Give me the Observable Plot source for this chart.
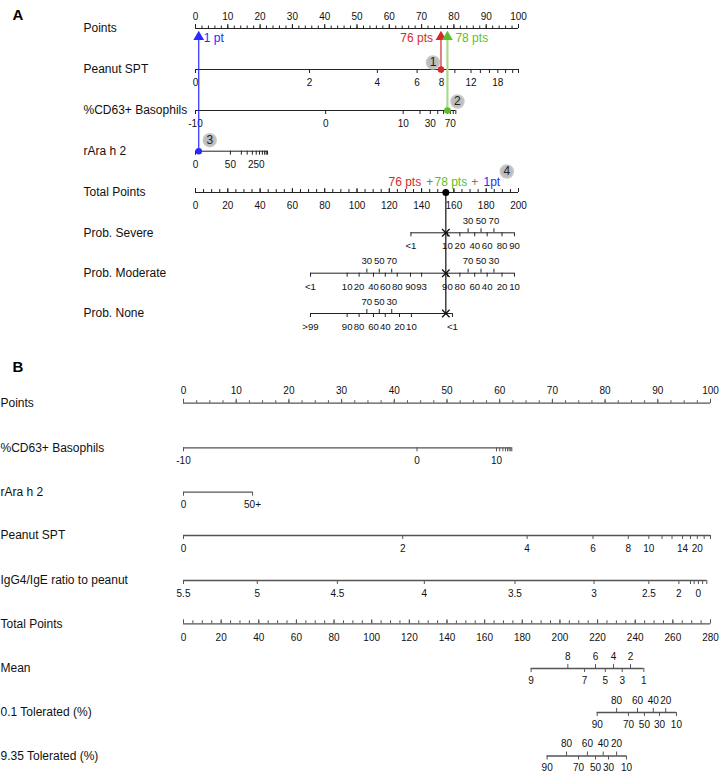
<!DOCTYPE html>
<html><head><meta charset="utf-8">
<script src="https://cdn.jsdelivr.net/npm/d3@7"></script>
<script src="https://cdn.jsdelivr.net/npm/@observablehq/plot@0.6"></script>
<style>
body{margin:0;background:#fff;font-family:"Liberation Sans",Arial,sans-serif}
#chart{width:719px}
#chart svg{display:block}
</style>
</head><body><div id="chart"></div>
<script>
// ================= PANEL A DATA =================
const aRowNames = ["Points","Peanut SPT","%CD63+ Basophils","rAra h 2","Total Points","Prob. Severe","Prob. Moderate","Prob. None"];
const aPointsLabels = [0,10,20,30,40,50,60,70,80,90,100];
// Peanut SPT: tick labels and their position on the Points scale
const aSptLabels = ["0","2","4","6","8","","12","","","18","","",""];
const aSptPoints = [0,35.3,56.3,68.6,76.2,80.3,85.3,88.2,91.0,93.6,96.0,98.2,100];
// %CD63+ Basophils
const aCd63Labels = ["-10","0","10","","30","","","","70","",""];
const aCd63Points = [0,40.3,64.3,69.5,72.7,75.0,76.8,78.0,78.9,79.8,80.6];
// rAra h 2
const aRaraLabels = ["0","50","","","","250","","","","",""];
const aRaraPoints = [0,10.8,14.2,16.0,17.6,18.8,19.8,20.7,21.4,21.9,22.3];
const aTotalLabels = [0,20,40,60,80,100,120,140,160,180,200];
// Probability axes (positions on the Total Points scale)
const aSevBottom = ["<1","10","20","40","60","80","90"];
const aSevBottomTot = [133.4,156.0,163.7,172.9,180.6,189.8,197.5];
const aSevTop = ["30","50","70"];
const aSevTopTot = [168.8,176.8,184.8];
const aModBottom = ["<1","10","20","40","60","80","90","93","90","80","60","40","20","10"];
const aModBottomTot = [71.2,93.9,101.3,110.2,117.5,124.9,133.1,140.0,156.0,163.7,172.9,180.6,189.8,197.5];
const aModTop = ["30","50","70","70","50","30"];
const aModTopTot = [106.1,113.8,121.5,168.8,176.8,184.8];
const aNoneBottom = [">99","90","80","60","40","20","10","<1"];
const aNoneBottomTot = [71.2,93.9,101.3,110.2,117.5,126.3,133.7,159.1];
const aNoneTop = ["70","50","30"];
const aNoneTopTot = [106.1,113.8,121.5];
// Worked example
const exSptPts = 76, exCd63Pts = 78, exRaraPts = 1, exTotal = 155;

// ================= PANEL B DATA =================
const bRowNames = ["Points","%CD63+ Basophils","rAra h 2","Peanut SPT","IgG4/IgE ratio to peanut","Total Points","Mean","0.1 Tolerated (%)","9.35 Tolerated (%)"];
const bPointsLabels = [0,10,20,30,40,50,60,70,80,90,100];
const bCd63Labels = ["-10","0","10","","","","","","",""];
const bCd63Points = [0,44.3,59.4,60.0,60.6,61.1,61.5,61.8,62.1,62.3];
const bRaraLabels = ["0","50+"];
const bRaraPoints = [0,13.1];
const bSptLabels = ["0","2","4","6","8","10","","","14","","20","",""];
const bSptPoints = [0,41.6,65.2,77.7,84.4,88.3,90.8,92.7,94.7,96.2,97.5,98.8,100];
const bIgLabels = ["5.5","5","4.5","4","3.5","3","2.5","2","","","0","",""];
const bIgPoints = [0,14.0,29.2,45.7,62.9,77.9,88.3,94.0,96.2,96.9,97.7,98.5,99.3];
const bTotalLabels = [0,20,40,60,80,100,120,140,160,180,200,220,240,260,280];
const bMeanTop = ["8","6","4","2"];
const bMeanTopTot = [204.2,218.9,228.5,237.5];
const bMeanBottom = ["9","7","5","3","1"];
const bMeanBottomTot = [184.7,213.1,224.1,233.1,244.6];
const bTol01Top = ["80","60","40","20"];
const bTol01TopTot = [230.1,241.2,249.6,256.2];
const bTol01Bottom = ["90","70","50","30","10"];
const bTol01BottomTot = [219.8,236.4,244.9,252.9,261.9];
const bTol935Top = ["80","60","40","20"];
const bTol935TopTot = [203.5,214.6,223.0,230.1];
const bTol935Bottom = ["90","70","50","30","10"];
const bTol935BottomTot = [193.2,209.9,218.9,225.8,235.4];

// ================= HELPERS =================
const FONT = "Liberation Sans, Arial, Helvetica, sans-serif";
function axisLine(y, from, to, stroke, sw) {
  return Plot.ruleY([{y, x1: from, x2: to}], {y: "y", x1: "x1", x2: "x2", stroke, strokeWidth: sw});
}
function ticks(labels, pos, y, dir, len, labelOff, stroke, sw, fs = 10) {
  const data = labels.map((l, i) => ({l: String(l), x: pos[i]}));
  return [
    Plot.ruleX(data, {x: "x", y1: () => y, y2: () => y + dir * len, stroke, strokeWidth: sw}),
    Plot.text(data.filter(d => d.l !== ""), {x: "x", y: () => y + dir * labelOff, text: "l", fontSize: fs, fill: "#111", fontFamily: FONT})
  ];
}
function rowLabel(name, y, dx, fs = 12) {
  return Plot.text([name], {frameAnchor: "left", dx, y: () => y, text: d => d, textAnchor: "start", fontSize: fs, fill: "#111", fontFamily: FONT});
}

// ================= PANEL A =================
{
  const ML = 195, MR = 201, H = 340;
  const rowsY = [28, 69, 110, 150.7, 192, 232.3, 272.7, 313];
  const tot = t => t * 100 / 200;
  const stroke = "#222";
  const red = "#d32b2b", green = "#5cbf2a", greenLine = "#a9db8f", blue = "#2a2aff";
  const marks = [];
  marks.push(Plot.text(["A"], {frameAnchor: "left", dx: 12 - ML, y: () => 15, text: d => d, textAnchor: "start", fontSize: 15, fontWeight: "bold", fill: "#000", fontFamily: FONT}));
  aRowNames.forEach((n, i) => marks.push(rowLabel(n, rowsY[i], 83 - ML)));
  // Points
  marks.push(axisLine(rowsY[0], 0, 100, stroke, 1));
  marks.push(...ticks(d3.range(0, 101, 2).map(() => ""), d3.range(0, 101, 2), rowsY[0], -1, 2.5, 0, stroke, 1));
  marks.push(...ticks(aPointsLabels, aPointsLabels, rowsY[0], -1, 4, 11.5, stroke, 1));
  // Variables
  marks.push(axisLine(rowsY[1], 0, d3.max(aSptPoints), stroke, 1));
  marks.push(...ticks(aSptLabels, aSptPoints, rowsY[1], 1, 4, 13.5, stroke, 1));
  marks.push(axisLine(rowsY[2], 0, d3.max(aCd63Points), stroke, 1));
  marks.push(...ticks(aCd63Labels, aCd63Points, rowsY[2], 1, 4, 13.5, stroke, 1));
  marks.push(axisLine(rowsY[3], 0, d3.max(aRaraPoints), stroke, 1));
  marks.push(...ticks(aRaraLabels, aRaraPoints, rowsY[3], 1, 4, 13.5, stroke, 1));
  // Total points
  marks.push(axisLine(rowsY[4], 0, 100, stroke, 1));
  marks.push(...ticks(d3.range(0, 201, 5).map(() => ""), d3.range(0, 201, 5).map(tot), rowsY[4], -1, 3, 0, stroke, 1));
  marks.push(...ticks(aTotalLabels, aTotalLabels.map(tot), rowsY[4], -1, 4, -13.5, stroke, 1));
  // Probabilities
  const probRow = (y, bl, bt, tl, tt) => {
    const all = bt.concat(tt);
    marks.push(axisLine(y, tot(d3.min(all)), tot(d3.max(all)), stroke, 1));
    marks.push(...ticks(bl, bt.map(tot), y, 1, 4, 13.5, stroke, 1, 9.6));
    marks.push(...ticks(tl, tt.map(tot), y, -1, 4, 12, stroke, 1, 9.6));
  };
  probRow(rowsY[5], aSevBottom, aSevBottomTot, aSevTop, aSevTopTot);
  probRow(rowsY[6], aModBottom, aModBottomTot, aModTop, aModTopTot);
  probRow(rowsY[7], aNoneBottom, aNoneBottomTot, aNoneTop, aNoneTopTot);

  // Worked example
  const arrowY = 37;
  marks.push(Plot.ruleX([{x: exSptPts, y1: rowsY[1], y2: arrowY}], {x: "x", y1: "y1", y2: "y2", stroke: red, strokeWidth: 1.2}));
  marks.push(Plot.ruleX([{x: exCd63Pts, y1: rowsY[2], y2: arrowY}], {x: "x", y1: "y1", y2: "y2", stroke: greenLine, strokeWidth: 2.2}));
  marks.push(Plot.ruleX([{x: exRaraPts, y1: rowsY[3], y2: arrowY}], {x: "x", y1: "y1", y2: "y2", stroke: blue, strokeWidth: 1.2}));
  marks.push(Plot.dot([{x: exSptPts, c: red}, {x: exCd63Pts, c: green}, {x: exRaraPts, c: blue}], {x: "x", y: () => arrowY - 0.5, symbol: "triangle", r: 4, fill: "c", stroke: "none"}));
  marks.push(Plot.dot([{x: exSptPts, y: rowsY[1], c: red}, {x: exCd63Pts, y: rowsY[2], c: green}, {x: exRaraPts, y: rowsY[3], c: blue}], {x: "x", y: "y", r: 3.3, fill: "c", stroke: "none"}));
  marks.push(Plot.text([exSptPts + " pts"], {x: () => exSptPts, y: () => 38, dx: -8, text: d => d, textAnchor: "end", fill: red, fontSize: 12, fontFamily: FONT}));
  marks.push(Plot.text([exCd63Pts + " pts"], {x: () => exCd63Pts, y: () => 38, dx: 8, text: d => d, textAnchor: "start", fill: green, fontSize: 12, fontFamily: FONT}));
  marks.push(Plot.text([exRaraPts + " pt"], {x: () => exRaraPts, y: () => 38, dx: 5, text: d => d, textAnchor: "start", fill: blue, fontSize: 12, fontFamily: FONT}));
  // Total line
  marks.push(Plot.ruleX([{x: tot(exTotal), y1: rowsY[4], y2: rowsY[7]}], {x: "x", y1: "y1", y2: "y2", stroke: "#111", strokeWidth: 1.2}));
  marks.push(Plot.dot([tot(exTotal)], {x: d => d, y: () => rowsY[4], r: 3.5, fill: "#000"}));
  marks.push(Plot.dot([5, 6, 7].map(i => rowsY[i]), {x: () => tot(exTotal), y: d => d, symbol: "times", r: 3.5, stroke: "#111", strokeWidth: 1.3}));
  const sumParts = [
    {t: exSptPts + " pts", c: red, dx: -41},
    {t: "+", c: "#777", dx: -16},
    {t: exCd63Pts + " pts", c: green, dx: 5},
    {t: "+", c: "#777", dx: 29},
    {t: exRaraPts + "pt", c: blue, dx: 46}
  ];
  sumParts.forEach(p => marks.push(Plot.text([p.t], {x: () => tot(exTotal), y: () => rowsY[4] - 10, dx: p.dx, text: d => d, fill: p.c, fontSize: 12, fontFamily: FONT})));
  // Step bubbles
  const steps = [
    {n: "1", x: exSptPts, y: rowsY[1], dx: -8, dy: -7},
    {n: "2", x: exCd63Pts, y: rowsY[2], dx: 10, dy: -9},
    {n: "3", x: exRaraPts, y: rowsY[3], dx: 11, dy: -11},
    {n: "4", x: tot(exTotal), y: rowsY[4], dx: 61, dy: -21}
  ];
  steps.forEach(s => {
    marks.push(Plot.dot([s], {x: "x", y: "y", dx: s.dx, dy: s.dy, r: 6.5, fill: "#bdbdbd", stroke: "#c8c8c8"}));
    marks.push(Plot.text([s], {x: "x", y: "y", dx: s.dx, dy: s.dy, text: "n", fontSize: 12, fill: "#222", fontFamily: FONT}));
  });

  const p = Plot.plot({
    width: 719, height: H, marginLeft: ML, marginRight: MR, marginTop: 0, marginBottom: 0,
    x: {domain: [0, 100], axis: null},
    y: {domain: [0, H], range: [0, H], axis: null},
    style: {fontFamily: FONT, background: "#fff", overflow: "visible"},
    marks
  });
  document.getElementById("chart").appendChild(p);
}

// ================= PANEL B =================
{
  const ML = 183, MR = 9, Y0 = 340, H = 773 - 340;
  const rowsY = [402.7, 447.3, 491.7, 535, 580, 623.3, 668, 712, 755.5];
  const tot = t => t * 100 / 280;
  const stroke = "#555";
  const marks = [];
  marks.push(Plot.text(["B"], {frameAnchor: "left", dx: 12 - ML, y: () => 367, text: d => d, textAnchor: "start", fontSize: 15, fontWeight: "bold", fill: "#000", fontFamily: FONT}));
  bRowNames.forEach((n, i) => marks.push(rowLabel(n, rowsY[i], 0 - ML)));
  // Points
  marks.push(axisLine(rowsY[0], 0, 100, stroke, 1.3));
  marks.push(...ticks(d3.range(0, 101, 2.5).map(() => ""), d3.range(0, 101, 2.5), rowsY[0], -1, 2.5, 0, stroke, 1));
  marks.push(...ticks(bPointsLabels, bPointsLabels, rowsY[0], -1, 4, 12, stroke, 1));
  // Variables
  const varRow = (y, labels, pos) => {
    marks.push(axisLine(y, 0, d3.max(pos), stroke, 1.3));
    marks.push(...ticks(labels, pos, y, 1, 4, 13, stroke, 1));
  };
  varRow(rowsY[1], bCd63Labels, bCd63Points);
  varRow(rowsY[2], bRaraLabels, bRaraPoints);
  varRow(rowsY[3], bSptLabels, bSptPoints);
  varRow(rowsY[4], bIgLabels, bIgPoints);
  // Total
  marks.push(axisLine(rowsY[5], 0, 100, stroke, 1.3));
  marks.push(...ticks(d3.range(0, 281, 5).map(() => ""), d3.range(0, 281, 5).map(tot), rowsY[5], -1, 3, 0, stroke, 1));
  marks.push(...ticks(bTotalLabels, bTotalLabels.map(tot), rowsY[5], -1, 4, -13.5, stroke, 1));
  // Outcome rows
  const outRow = (y, tl, tt, bl, bt) => {
    const all = tt.concat(bt);
    marks.push(axisLine(y, tot(d3.min(all)), tot(d3.max(all)), stroke, 1.3));
    marks.push(...ticks(tl, tt.map(tot), y, -1, 4, 12, stroke, 1));
    marks.push(...ticks(bl, bt.map(tot), y, 1, 4, 12, stroke, 1));
  };
  outRow(rowsY[6], bMeanTop, bMeanTopTot, bMeanBottom, bMeanBottomTot);
  outRow(rowsY[7], bTol01Top, bTol01TopTot, bTol01Bottom, bTol01BottomTot);
  outRow(rowsY[8], bTol935Top, bTol935TopTot, bTol935Bottom, bTol935BottomTot);

  const p = Plot.plot({
    width: 719, height: H, marginLeft: ML, marginRight: MR, marginTop: 0, marginBottom: 0,
    x: {domain: [0, 100], axis: null},
    y: {domain: [Y0, 773], range: [0, H], axis: null},
    style: {fontFamily: FONT, background: "#fff", overflow: "visible"},
    marks
  });
  document.getElementById("chart").appendChild(p);
}
</script>
</body></html>
